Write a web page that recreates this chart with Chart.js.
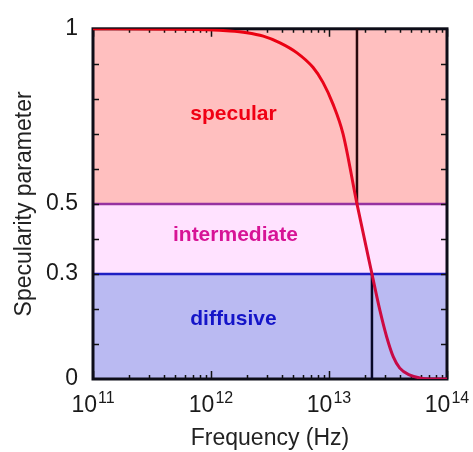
<!DOCTYPE html>
<html>
<head>
<meta charset="utf-8">
<script src="https://cdn.jsdelivr.net/npm/chart.js@4/dist/chart.umd.min.js"></script>
<style>
  html, body { margin: 0; padding: 0; background: #ffffff; }
  #wrap { width: 473px; height: 452px; }
</style>
</head>
<body>
<div id="wrap"><canvas id="c" width="473" height="452"></canvas></div>
<script>
// ---- data ----
const frequencyHz = [1e11, 5.46e11, 1.449e12, 2.01e12, 2.773e12, 3.846e12, 5.32e12, 7.31e12,
                     8.89e12, 1.081e13, 1.315e13, 1.726e13, 2.312e13, 2.704e13, 3.083e13,
                     3.508e13, 3.98e13, 4.853e13, 5.888e13, 7.08e13, 1e14];
const specularity = [1.0, 0.999, 0.994, 0.989, 0.979, 0.960, 0.932, 0.890,
                     0.847, 0.785, 0.70, 0.5, 0.30, 0.195, 0.12,
                     0.063, 0.031, 0.011, 0.003, 0.0, 0.0];
const specularLimitHz = 1.726e13;   // p = 0.5
const diffusiveLimitHz = 2.312e13;  // p = 0.3
const regimeNames = ['specular', 'intermediate', 'diffusive'];
const regimeUpper = [1.0, 0.5, 0.3];
const regimeLower = [0.5, 0.3, 0.0];
const regimeLabelHz = [1.55e12, 1.61e12, 1.55e12];
const regimeLabelP = [0.756, 0.41, 0.171];
const xTickValues = [1e11, 1e12, 1e13, 1e14];
const xTickExponents = ['11', '12', '13', '14'];
const yTickValues = [0, 0.3, 0.5, 1];
const yMinorTicks = [0.1, 0.2, 0.3, 0.4, 0.5, 0.6, 0.7, 0.8, 0.9];
const xMinorMultipliers = [2, 3, 4, 5, 6, 7, 8, 9];
const xMinorDecades = [1e11, 1e12, 1e13];

// ---- styles ----
const FONT = "'Liberation Sans', Arial, Helvetica, sans-serif";
const bandFill = ['rgb(255,191,191)', 'rgb(255,226,255)', 'rgb(186,186,242)'];
const bandLine = ['rgba(0,0,0,0)', 'rgb(150,50,160)', 'rgb(30,30,195)'];
const labelColor = ['rgb(240,0,20)', 'rgb(215,20,150)', 'rgb(20,20,200)'];

const bandDatasets = regimeNames.map((name, i) => ({
  label: name,
  bandIndex: i,
  data: [{x: xTickValues[0], y: regimeUpper[i]}, {x: xTickValues[xTickValues.length - 1], y: regimeUpper[i]}],
  fill: {value: regimeLower[i]},
  backgroundColor: bandFill[i],
  borderColor: bandLine[i],
  borderWidth: i === 0 ? 0 : 2.5,
  pointRadius: 0,
  order: 6 - i
}));

const curveGradient = (context) => {
  const chart = context.chart;
  const area = chart.chartArea;
  if (!area) return 'rgb(230,0,20)';
  const g = chart.ctx.createLinearGradient(0, area.top, 0, area.bottom);
  g.addColorStop(0, 'rgb(235,0,15)');
  g.addColorStop(0.45, 'rgb(230,10,40)');
  g.addColorStop(1, 'rgb(195,10,75)');
  return g;
};

const frameTicks = {
  id: 'frameTicks',
  afterDatasetDraw(chart, args) {
    const ds = chart.data.datasets[args.index];
    if (ds.bandIndex !== 2) return;
    const {ctx, chartArea: a, scales: {x, y}} = chart;
    ctx.save();
    ctx.strokeStyle = '#111';
    ctx.lineWidth = 1.5;
    ctx.beginPath();
    yMinorTicks.forEach(v => {
      const py = Math.round(y.getPixelForValue(v)) + 0.5;
      ctx.moveTo(a.left, py); ctx.lineTo(a.left + 6, py);
      ctx.moveTo(a.right, py); ctx.lineTo(a.right - 6, py);
    });
    xTickValues.forEach(v => {
      const px = Math.round(x.getPixelForValue(v)) + 0.5;
      ctx.moveTo(px, a.bottom); ctx.lineTo(px, a.bottom - 8);
      ctx.moveTo(px, a.top); ctx.lineTo(px, a.top + 8);
    });
    xMinorDecades.forEach(d => xMinorMultipliers.forEach(m => {
      const px = Math.round(x.getPixelForValue(d * m)) + 0.5;
      ctx.moveTo(px, a.bottom); ctx.lineTo(px, a.bottom - 4);
      ctx.moveTo(px, a.top); ctx.lineTo(px, a.top + 4);
    }));
    ctx.stroke();
    ctx.lineWidth = 3;
    ctx.strokeStyle = '#0d0d18';
    ctx.strokeRect(a.left, a.top, a.right - a.left, a.bottom - a.top);
    ctx.restore();
  },
  afterDraw(chart) {
    const {ctx, chartArea: a, scales: {x, y}} = chart;
    ctx.save();
    // x tick labels with superscript exponents
    ctx.fillStyle = '#1a1a1a';
    ctx.textBaseline = 'alphabetic';
    ctx.textAlign = 'left';
    xTickValues.forEach((v, i) => {
      const px = x.getPixelForValue(v);
      ctx.font = `23px ${FONT}`;
      const wb = ctx.measureText('10').width;
      ctx.font = `16px ${FONT}`;
      const we = ctx.measureText(xTickExponents[i]).width;
      const start = px - (wb + 1 + we) / 2;
      ctx.font = `23px ${FONT}`;
      ctx.fillText('10', start, a.bottom + 33);
      ctx.font = `16px ${FONT}`;
      ctx.fillText(xTickExponents[i], start + wb + 1, a.bottom + 24);
    });
    // regime labels
    ctx.textAlign = 'center';
    ctx.textBaseline = 'middle';
    ctx.font = `bold 21px ${FONT}`;
    regimeNames.forEach((name, i) => {
      ctx.fillStyle = labelColor[i];
      ctx.fillText(name, x.getPixelForValue(regimeLabelHz[i]), y.getPixelForValue(regimeLabelP[i]));
    });
    ctx.restore();
  }
};

new Chart(document.getElementById('c'), {
  type: 'line',
  data: {
    datasets: [
      ...bandDatasets,
      {
        label: 'specular limit',
        data: [{x: specularLimitHz, y: 1}, {x: specularLimitHz, y: 0.5}],
        borderColor: 'rgb(40,8,12)', borderWidth: 2.5, pointRadius: 0, fill: false, order: 2
      },
      {
        label: 'diffusive limit',
        data: [{x: diffusiveLimitHz, y: 0.3}, {x: diffusiveLimitHz, y: 0}],
        borderColor: 'rgb(8,8,40)', borderWidth: 2.5, pointRadius: 0, fill: false, order: 2
      },
      {
        label: 'specularity',
        data: frequencyHz.map((f, i) => ({x: f, y: specularity[i]})),
        borderColor: curveGradient, borderWidth: 3, pointRadius: 0, fill: false,
        cubicInterpolationMode: 'monotone', order: 1
      }
    ]
  },
  options: {
    responsive: false,
    animation: false,
    events: [],
    layout: {padding: {left: 0, right: 26, top: 26, bottom: 0}},
    plugins: {legend: {display: false}, tooltip: {enabled: false}},
    scales: {
      x: {
        type: 'logarithmic', min: xTickValues[0], max: xTickValues[xTickValues.length - 1],
        grid: {display: false, drawTicks: false}, border: {display: false},
        ticks: {display: false},
        title: {display: true, text: 'Frequency (Hz)', color: '#222',
                font: {family: FONT, size: 23}, padding: {top: 0, bottom: 0}},
        afterFit(s) { s.height = 73; }
      },
      y: {
        type: 'linear', min: 0, max: 1,
        grid: {display: false, drawTicks: false}, border: {display: false},
        afterBuildTicks(s) { s.ticks = yTickValues.map(v => ({value: v})); },
        ticks: {color: '#1a1a1a', font: {family: FONT, size: 23}, padding: 15,
                callback: (v) => String(v)},
        title: {display: true, text: 'Specularity parameter', color: '#222',
                font: {family: FONT, size: 23}, padding: {top: 11, bottom: 0}},
        afterFit(s) { s.width = 93; }
      }
    }
  },
  plugins: [frameTicks]
});
</script>
</body>
</html>
